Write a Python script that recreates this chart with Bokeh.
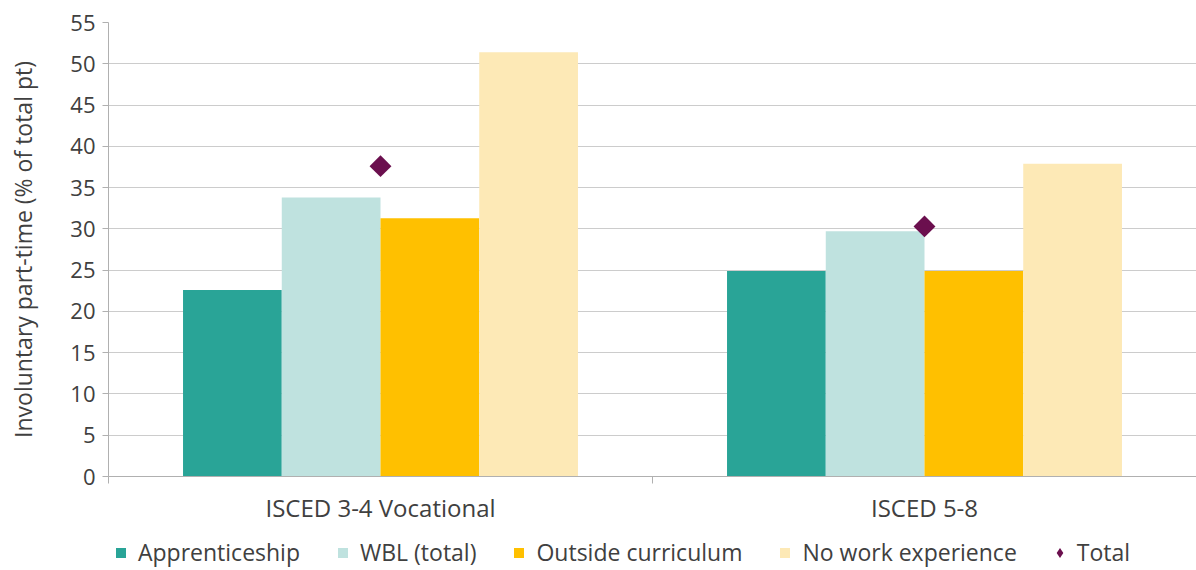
import math
from bokeh.plotting import figure
from bokeh.layouts import column
from bokeh.models import (Range1d, LinearAxis, FixedTicker,
                          Legend, LegendItem, ColumnDataSource)
from bokeh.transform import dodge
from bokeh.embed import file_html
from bokeh.resources import INLINE

# ---------------- data ----------------
categories = ["ISCED 3-4 Vocational", "ISCED 5-8"]
series_names = ["Apprenticeship", "WBL (total)", "Outside curriculum", "No work experience"]
apprenticeship = [22.6, 24.9]
wbl_total = [33.8, 29.7]
outside_curriculum = [31.3, 24.9]
no_work_experience = [51.4, 37.9]
total = [37.6, 30.3]
y_ticks = [0, 5, 10, 15, 20, 25, 30, 35, 40, 45, 50, 55]
y_label = "Involuntary part-time (% of total pt)"

# ---------------- style ----------------
FONT = "Open Sans"
TEXT = "#404040"
GRID = "#cccccc"
AXIS = "#b0b0b0"
colors = ["#29a497", "#bfe2df", "#ffc000", "#fde9b6"]
total_color = "#6b0f4e"

ncat = len(categories)
centers = [i + 0.5 for i in range(ncat)]   # category slot centres on a 0..ncat axis

source = ColumnDataSource(dict(
    xc=centers,
    s0=apprenticeship,
    s1=wbl_total,
    s2=outside_curriculum,
    s3=no_work_experience,
    total=total,
))

p = figure(width=1196, height=536,
           x_range=Range1d(0, ncat),
           y_range=Range1d(0, 55),
           x_axis_location=None,
           toolbar_location=None, output_backend="svg",
           min_border_left=108, min_border_right=0,
           min_border_top=22, min_border_bottom=60)
p.outline_line_color = None
p.background_fill_color = "white"
p.xgrid.visible = False
p.ygrid.ticker = FixedTicker(ticks=y_ticks)
p.ygrid.grid_line_color = GRID
p.ygrid.grid_line_width = 1

# y axis
ya = p.yaxis[0]
ya.ticker = FixedTicker(ticks=y_ticks)
ya.axis_line_color = AXIS
ya.major_tick_line_color = AXIS
ya.major_tick_out = 6
ya.major_tick_in = 0
ya.minor_tick_line_color = None
ya.major_label_text_font = FONT
ya.major_label_text_font_size = "22px"
ya.major_label_text_color = TEXT
ya.major_label_standoff = 7
ya.axis_label = y_label
ya.axis_label_text_font = FONT
ya.axis_label_text_font_size = "23px"
ya.axis_label_text_font_style = "normal"
ya.axis_label_text_color = TEXT
ya.axis_label_standoff = 28

# bars
bar_w = 0.1815
n = len(series_names)
for i, name in enumerate(series_names):
    off = (i - (n - 1) / 2) * bar_w
    p.vbar(x=dodge("xc", off), top="s%d" % i, width=bar_w,
           source=source, fill_color=colors[i], line_color=None)

# total markers
p.scatter(x="xc", y="total", source=source, marker="square", angle=math.pi / 4,
          size=15.5, fill_color=total_color, line_color=None)

# x axes: boundary ticks + category labels
bounds = list(range(ncat + 1))
tick_axis = LinearAxis(ticker=FixedTicker(ticks=bounds),
                       major_label_overrides={b: " " for b in bounds},
                       axis_line_color=AXIS, major_tick_line_color=AXIS,
                       major_tick_out=7, major_tick_in=0,
                       minor_tick_line_color=None,
                       major_label_text_font_size="2px", major_label_text_alpha=0,
                       major_label_standoff=0)
p.add_layout(tick_axis, "below")

cat_axis = LinearAxis(ticker=FixedTicker(ticks=centers),
                      major_label_overrides={c: lab for c, lab in zip(centers, categories)},
                      axis_line_color=None, major_tick_line_color=None,
                      minor_tick_line_color=None,
                      major_label_text_font=FONT, major_label_text_font_size="24px",
                      major_label_text_color=TEXT, major_label_standoff=1)
p.add_layout(cat_axis, "below")

# ---------------- legend strip (own small figure) ----------------
lg = figure(width=1196, height=34, x_range=Range1d(0, 1), y_range=Range1d(0, 1),
            x_axis_location=None, y_axis_location=None,
            toolbar_location=None, output_backend="svg", min_border=0)
lg.outline_line_color = None
lg.xgrid.visible = False
lg.ygrid.visible = False

proxies = []
for i, name in enumerate(series_names):
    pr = lg.scatter(x="xc", y="s%d" % i, source=source, marker="square", size=0,
                    fill_color=colors[i], line_color=None)
    proxies.append(LegendItem(label=name, renderers=[pr]))
prt = lg.scatter(x="xc", y="total", source=source, marker="diamond", size=0,
                 fill_color=total_color, line_color=None)
proxies.append(LegendItem(label="Total", renderers=[prt]))

legend = Legend(items=proxies, orientation="horizontal", location=(0, 2),
                border_line_color=None, background_fill_alpha=0,
                label_text_font=FONT, label_text_font_size="23px", label_text_color=TEXT,
                glyph_width=25, glyph_height=25, spacing=30, label_standoff=5,
                padding=0, margin=0)
lg.add_layout(legend, "center")

layout = column(p, lg, spacing=0)
open("out.html", "w").write(file_html(layout, INLINE))
